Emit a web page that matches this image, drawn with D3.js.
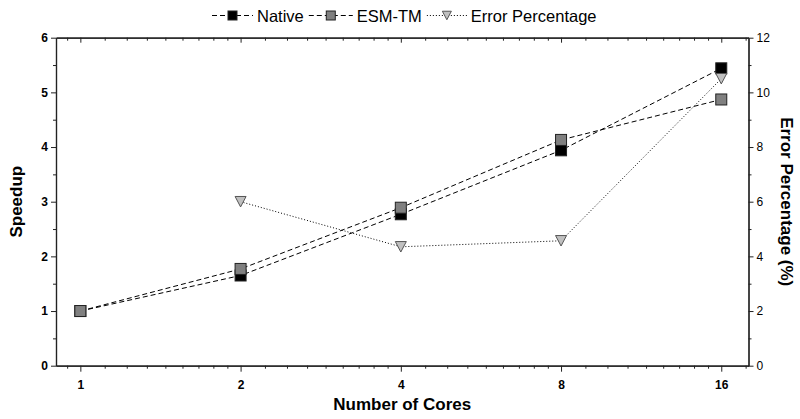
<!DOCTYPE html>
<html>
<head>
<meta charset="utf-8">
<script src="https://cdn.jsdelivr.net/npm/d3@7"></script>
<style>
  html, body { margin: 0; padding: 0; background: #fff; }
  svg { display: block; font-family: "Liberation Sans", Arial, sans-serif; }
</style>
</head>
<body>
<svg id="chart" width="800" height="419"></svg>
<script>
// ---- data ----
const cores = [1, 2, 4, 8, 16];
const nativeSpeedup = [1.0, 1.65, 2.77, 3.94, 5.44];
const esmSpeedup = [1.0, 1.77, 2.89, 4.13, 4.87];
const errorCores = [2, 4, 8, 16];
const errorPct = [6.0, 4.35, 4.57, 10.5];
const xTickLabels = ["1", "2", "4", "8", "16"];
const yTicks = [0, 1, 2, 3, 4, 5, 6];
const y2Ticks = [0, 2, 4, 6, 8, 10, 12];
const seriesNames = ["Native", "ESM-TM", "Error Percentage"];

// ---- layout ----
const pL = 56, pR = 748.5, pT = 37.7, pB = 365.7;

const svg = d3.select("#chart");

const x = d3.scaleLog().base(2).domain([0.9, 18]).range([pL, pR]);
const y = d3.scaleLinear().domain([0, 6]).range([pB, pT]);
const y2 = d3.scaleLinear().domain([0, 12]).range([pB, pT]);

// minor x ticks: each octave split into 9 equal linear parts
const xMinor = [];
[0.5, 1, 2, 4, 8, 16].forEach(b => {
  for (let j = 1; j <= 8; j++) {
    const v = b * (1 + j / 9);
    if (v >= 0.9 && v <= 18 && !cores.includes(v)) xMinor.push(v);
  }
});
const yMinor = d3.range(0.5, 6, 1);
const y2Minor = d3.range(1, 12, 2);

const axisColor = "#222";

// ---- axes ----
const gB = svg.append("g").attr("transform", `translate(0,${pB})`)
  .call(d3.axisBottom(x).tickValues(cores).tickFormat((d, i) => xTickLabels[i]).tickSize(6).tickSizeOuter(0));
svg.append("g").attr("transform", `translate(0,${pB})`)
  .call(d3.axisBottom(x).tickValues(xMinor).tickFormat("").tickSize(3).tickSizeOuter(0));
svg.append("g").attr("transform", `translate(0,${pT})`)
  .call(d3.axisBottom(x).tickValues(cores).tickFormat("").tickSize(5).tickSizeOuter(0));
svg.append("g").attr("transform", `translate(0,${pT})`)
  .call(d3.axisBottom(x).tickValues(xMinor).tickFormat("").tickSize(3).tickSizeOuter(0));
svg.append("g").attr("transform", `translate(${pL},0)`)
  .call(d3.axisLeft(y).tickValues(yTicks).tickFormat(d3.format("d")).tickSize(5).tickSizeOuter(0));
svg.append("g").attr("transform", `translate(${pL},0)`)
  .call(d3.axisLeft(y).tickValues(yMinor).tickFormat("").tickSize(3).tickSizeOuter(0));
svg.append("g").attr("class", "r").attr("transform", `translate(${pR},0)`)
  .call(d3.axisRight(y2).tickValues(y2Ticks).tickFormat(d3.format("d")).tickSize(5).tickSizeOuter(0));
svg.append("g").attr("transform", `translate(${pR},0)`)
  .call(d3.axisRight(y2).tickValues(y2Minor).tickFormat("").tickSize(3).tickSizeOuter(0));

svg.selectAll(".domain").attr("stroke", axisColor).attr("stroke-width", 1.2);
svg.selectAll(".tick line").attr("stroke", axisColor).attr("stroke-width", 1);
svg.selectAll(".tick text").attr("fill", "#000").attr("font-family", "Liberation Sans, Arial, sans-serif")
  .attr("font-size", 12).attr("font-weight", "bold");
svg.selectAll(".r .tick text").attr("font-weight", "normal").attr("x", 8);
gB.selectAll(".tick text").attr("dy", "1.2em");

// ---- axis titles ----
svg.append("text").attr("x", (pL + pR) / 2).attr("y", 410)
  .attr("text-anchor", "middle").attr("font-size", 17).attr("font-weight", "bold")
  .text("Number of Cores");
svg.append("text").attr("transform", `translate(21.5,${(pT + pB) / 2}) rotate(-90)`)
  .attr("text-anchor", "middle").attr("font-size", 17).attr("font-weight", "bold")
  .text("Speedup");
svg.append("text").attr("transform", `translate(781,${(pT + pB) / 2}) rotate(90)`)
  .attr("text-anchor", "middle").attr("font-size", 17).attr("font-weight", "bold")
  .text("Error Percentage (%)");

// ---- lines ----
const lineSpd = d3.line().x(d => x(d[0])).y(d => y(d[1]));
const lineErr = d3.line().x(d => x(d[0])).y(d => y2(d[1]));
const natData = cores.map((c, i) => [c, nativeSpeedup[i]]);
const esmData = cores.map((c, i) => [c, esmSpeedup[i]]);
const errData = errorCores.map((c, i) => [c, errorPct[i]]);

svg.append("path").datum(natData).attr("d", lineSpd).attr("fill", "none")
  .attr("stroke", "#000").attr("stroke-width", 1).attr("stroke-dasharray", "5,3");
svg.append("path").datum(esmData).attr("d", lineSpd).attr("fill", "none")
  .attr("stroke", "#000").attr("stroke-width", 1).attr("stroke-dasharray", "5,3");
svg.append("path").datum(errData).attr("d", lineErr).attr("fill", "none")
  .attr("stroke", "#000").attr("stroke-width", 1).attr("stroke-dasharray", "1,2");

// ---- markers ----
const ms = 11;
function square(g, cx, cy, s, fill) {
  g.append("rect").attr("x", cx - s / 2).attr("y", cy - s / 2).attr("width", s).attr("height", s)
    .attr("fill", fill).attr("stroke", "#222").attr("stroke-width", 1);
}
function tri(g, cx, cy, s) {
  const h = s * 0.95;
  g.append("path")
    .attr("d", `M${cx - s / 2},${cy - h / 2}L${cx + s / 2},${cy - h / 2}L${cx},${cy + h / 2}Z`)
    .attr("fill", "#c0c0c0").attr("stroke", "#555").attr("stroke-width", 1);
}
const gm = svg.append("g");
natData.forEach(d => square(gm, x(d[0]), y(d[1]), ms, "#000"));
esmData.forEach(d => square(gm, x(d[0]), y(d[1]), ms, "#808080"));
errData.forEach(d => tri(gm, x(d[0]), y2(d[1]), ms));

// ---- legend ----
const lg = svg.append("g");
const ly = 15.5;
let lx = 212;
const styles = [
  { dash: "5,3", stroke: "#000", mk: (g, cx) => square(g, cx, ly, 9, "#000") },
  { dash: "5,3", stroke: "#000", mk: (g, cx) => square(g, cx, ly, 9, "#808080") },
  { dash: "1,2", stroke: "#000", mk: (g, cx) => tri(g, cx, ly, 9) }
];
const segW = [41, 44, 40];
seriesNames.forEach((name, i) => {
  const st = styles[i];
  lg.append("line").attr("x1", lx).attr("x2", lx + segW[i]).attr("y1", ly).attr("y2", ly)
    .attr("stroke", st.stroke).attr("stroke-width", 1).attr("stroke-dasharray", st.dash);
  st.mk(lg, lx + segW[i] / 2);
  const t = lg.append("text").attr("x", lx + segW[i] + 4).attr("y", ly + 6)
    .attr("font-size", 16.5).attr("fill", "#000").text(name);
  lx += segW[i] + 4 + t.node().getComputedTextLength() + 5;
});
</script>
</body>
</html>
